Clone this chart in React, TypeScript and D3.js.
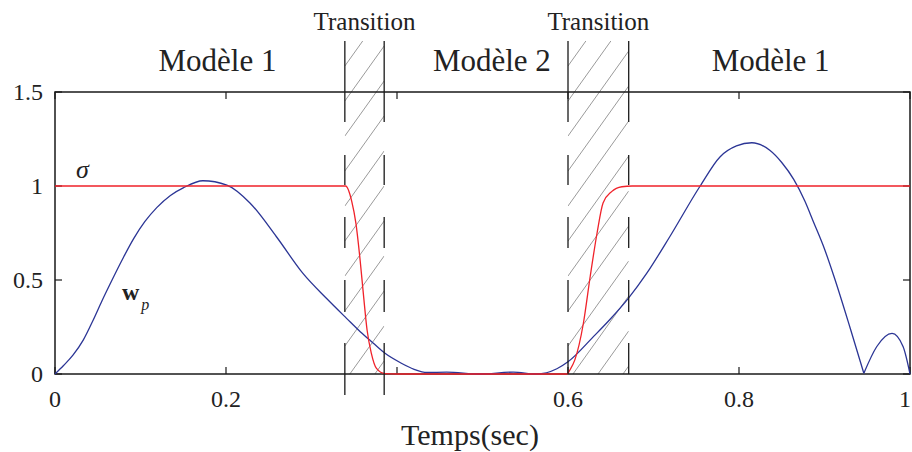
import React, { useEffect, useRef } from 'react';
import * as d3 from 'd3';

// sigma (red) : t, value
const sigmaT = [0, 0.34, 0.347, 0.352, 0.357, 0.361, 0.365, 0.37, 0.376, 0.386, 0.4, 0.599, 0.602, 0.608, 0.618, 0.626, 0.634, 0.641, 0.651, 0.663, 0.675, 1];
const sigmaV = [1, 1, 0.92, 0.8, 0.6, 0.41, 0.234, 0.11, 0.03, 0.002, 0, 0, 0.02, 0.075, 0.27, 0.52, 0.75, 0.91, 0.97, 0.996, 1, 1];

// w_p (blue), split at the cusp near t=0.946
const wpT1 = [0, 0.01, 0.021, 0.033, 0.045, 0.055, 0.064, 0.08, 0.092, 0.105, 0.119, 0.135, 0.15, 0.173, 0.201, 0.228, 0.259, 0.29, 0.318, 0.341, 0.357, 0.372, 0.386, 0.404, 0.42, 0.435, 0.458, 0.497, 0.536, 0.563, 0.587, 0.6, 0.63, 0.649, 0.671, 0.692, 0.719, 0.754, 0.778, 0.797, 0.815, 0.836, 0.85, 0.864, 0.877, 0.887, 0.9, 0.911, 0.93, 0.946];
const wpV1 = [0, 0.045, 0.1, 0.18, 0.29, 0.39, 0.475, 0.62, 0.72, 0.81, 0.885, 0.95, 0.99, 1.028, 1.005, 0.91, 0.73, 0.535, 0.4, 0.296, 0.225, 0.165, 0.11, 0.06, 0.025, 0.008, 0.01, 0, 0.01, 0, 0.028, 0.065, 0.2, 0.29, 0.405, 0.535, 0.73, 0.996, 1.156, 1.213, 1.23, 1.19, 1.125, 1.035, 0.92, 0.81, 0.665, 0.52, 0.245, 0.004];
const wpT2 = [0.946, 0.961, 0.979, 0.992, 1];
const wpV2 = [0.004, 0.145, 0.216, 0.145, 0];

// transition zones
const transStart = [0.339, 0.6];
const transEnd = [0.385, 0.671];
const transLabels = ['Transition', 'Transition'];

// regime labels
const modelLabels = ['Modèle 1', 'Modèle 2', 'Modèle 1'];
const modelCenters = [0.19, 0.511, 0.837];

const xTicks = [0, 0.2, 0.4, 0.6, 0.8, 1];
const xTickLabels = ['0', '0.2', '', '0.6', '0.8', '1'];
const yTicks = [0, 0.5, 1, 1.5];
const yTickLabels = ['0', '0.5', '1', '1.5'];

const W = 912, H = 452;
const margin = { top: 92, right: 2, bottom: 78, left: 55 };
const FONT = '"Liberation Serif", "Times New Roman", serif';

export default function App() {
  const ref = useRef<SVGSVGElement>(null);

  useEffect(() => {
    const svg = d3.select(ref.current);
    svg.selectAll('*').remove();

    const x = d3.scaleLinear().domain([0, 1]).range([margin.left, W - margin.right]);
    const y = d3.scaleLinear().domain([0, 1.5]).range([H - margin.bottom, margin.top]);
    const x0 = x(0), x1 = x(1), y0 = y(0), y1 = y(1.5);
    const lineTop = 41;

    // hatched transition zones
    const defs = svg.append('defs');
    transStart.forEach((s, i) => {
      defs.append('clipPath').attr('id', 'clip' + i)
        .append('rect')
        .attr('x', x(s)).attr('y', lineTop)
        .attr('width', x(transEnd[i]) - x(s)).attr('height', y0 - lineTop);
      const g = svg.append('g').attr('clip-path', `url(#clip${i})`);
      const slope = 1.4, step = 35;
      const bandW = x(transEnd[i]) - x(s);
      const offs = d3.range(lineTop - 10, y0 + bandW * slope + step, step);
      g.selectAll('line').data(offs).enter().append('line')
        .attr('x1', x(s)).attr('y1', d => d)
        .attr('x2', x(transEnd[i])).attr('y2', d => d - bandW * slope)
        .attr('stroke', '#9a9a9a').attr('stroke-width', 1);
    });

    // frame
    svg.append('rect')
      .attr('x', x0).attr('y', y1).attr('width', x1 - x0).attr('height', y0 - y1)
      .attr('fill', 'none').attr('stroke', '#1a1a1a').attr('stroke-width', 1.5);

    const tk = 7;
    xTicks.forEach(t => {
      svg.append('line').attr('x1', x(t)).attr('x2', x(t)).attr('y1', y0).attr('y2', y0 - tk)
        .attr('stroke', '#1a1a1a').attr('stroke-width', 1.2);
      svg.append('line').attr('x1', x(t)).attr('x2', x(t)).attr('y1', y1).attr('y2', y1 + tk)
        .attr('stroke', '#1a1a1a').attr('stroke-width', 1.2);
    });
    yTicks.forEach(v => {
      svg.append('line').attr('x1', x0).attr('x2', x0 + tk).attr('y1', y(v)).attr('y2', y(v))
        .attr('stroke', '#1a1a1a').attr('stroke-width', 1.2);
      svg.append('line').attr('x1', x1).attr('x2', x1 - tk).attr('y1', y(v)).attr('y2', y(v))
        .attr('stroke', '#1a1a1a').attr('stroke-width', 1.2);
    });

    // last tick label is pinned to the right edge so it stays visible
    svg.selectAll('text.xt').data(xTicks).enter().append('text')
      .attr('x', d => (d === 1 ? W - 1 : x(d))).attr('y', 407)
      .attr('text-anchor', d => (d === 1 ? 'end' : 'middle'))
      .attr('font-family', FONT).attr('font-size', 24).attr('fill', '#222')
      .text((d, i) => xTickLabels[i]);
    svg.selectAll('text.yt').data(yTicks).enter().append('text')
      .attr('x', 43).attr('y', d => y(d) + 8).attr('text-anchor', 'end')
      .attr('font-family', FONT).attr('font-size', 24).attr('fill', '#222')
      .text((d, i) => yTickLabels[i]);

    svg.append('text').attr('x', 470).attr('y', 445).attr('text-anchor', 'middle')
      .attr('font-family', FONT).attr('font-size', 30).attr('fill', '#222')
      .text('Temps(sec)');

    // curves
    const line = d3.line<number>().curve(d3.curveMonotoneX);
    const draw = (ts: number[], vs: number[], color: string) => {
      svg.append('path')
        .attr('d', line.x(d => x(ts[d])).y(d => y(vs[d]))(d3.range(ts.length)))
        .attr('fill', 'none').attr('stroke', color).attr('stroke-width', 1.3);
    };
    draw(wpT1, wpV1, '#2b3595');
    draw(wpT2, wpV2, '#2b3595');
    draw(sigmaT, sigmaV, '#f0222a');

    // dashed boundaries
    const dash = '81 33 30 32 31 32 32 31 60';
    transStart.forEach((s, i) => {
      const bottom = i === 0 ? 395 : y0;
      [s, transEnd[i]].forEach(t => {
        svg.append('line').attr('x1', x(t)).attr('x2', x(t)).attr('y1', lineTop).attr('y2', bottom)
          .attr('stroke', '#1a1a1a').attr('stroke-width', 1.3).attr('stroke-dasharray', dash);
      });
      svg.append('text').attr('x', (x(s) + x(transEnd[i])) / 2).attr('y', 30)
        .attr('text-anchor', 'middle').attr('font-family', FONT).attr('font-size', 25).attr('fill', '#222')
        .text(transLabels[i]);
    });

    modelLabels.forEach((m, i) => {
      svg.append('text').attr('x', x(modelCenters[i])).attr('y', 71)
        .attr('text-anchor', 'middle').attr('font-family', FONT).attr('font-size', 31).attr('fill', '#222')
        .text(m);
    });

    // curve labels
    svg.append('text').attr('x', 76).attr('y', 178)
      .attr('font-family', FONT).attr('font-size', 26).attr('font-style', 'italic').attr('fill', '#222')
      .text('σ');
    const wl = svg.append('text').attr('x', 122).attr('y', 300)
      .attr('font-family', FONT).attr('fill', '#222');
    wl.append('tspan').attr('font-size', 24).attr('font-weight', 'bold').text('w');
    wl.append('tspan').attr('font-size', 16).attr('font-style', 'italic').attr('dx', 2).attr('dy', 10).text('p');
  }, []);

  return (
    <svg ref={ref} width={W} height={H} style={{ position: 'absolute', left: 0, top: 0, background: '#fff' }} />
  );
}
